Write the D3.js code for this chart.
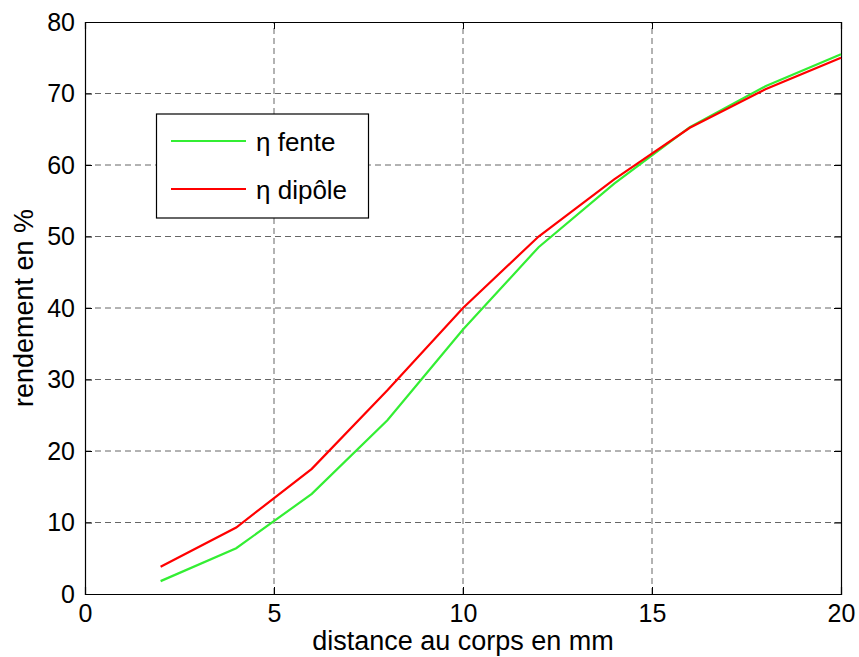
<!DOCTYPE html>
<html><head><meta charset="utf-8">
<script src="https://cdn.jsdelivr.net/npm/d3@7"></script>
<style>body{margin:0;background:#fff}svg{display:block}text{font-family:"Liberation Sans",Arial,sans-serif}</style>
</head><body>
<script>
const distances = [2, 4, 6, 8, 10, 12, 14, 16, 18, 20];
const fente = [1.8, 6.4, 14.0, 24.3, 37.0, 48.5, 57.4, 65.3, 71.0, 75.5];
const dipole = [3.8, 9.3, 17.5, 28.5, 40.0, 50.0, 58.0, 65.2, 70.6, 75.0];
const xTicks = [0, 5, 10, 15, 20];
const yTicks = [0, 10, 20, 30, 40, 50, 60, 70, 80];
const seriesNames = ["η fente", "η dipôle"];
const seriesColors = ["#33ee33", "#ff0000"];

const W = 859, H = 657;
const m = {left: 85, right: 18, top: 22, bottom: 63};
const svg = d3.select("body").append("svg").attr("width", W).attr("height", H);
const x = d3.scaleLinear().domain([0, 20]).range([m.left, W - m.right]);
const y = d3.scaleLinear().domain([0, 80]).range([H - m.bottom, m.top]);

// grid
const grid = svg.append("g").attr("stroke", "#666").attr("stroke-dasharray", "6,4").attr("stroke-width", 1);
xTicks.slice(1, -1).forEach(t => grid.append("line").attr("x1", x(t)).attr("x2", x(t)).attr("y1", y(0)).attr("y2", y(80)));
yTicks.slice(1, -1).forEach(t => grid.append("line").attr("x1", x(0)).attr("x2", x(20)).attr("y1", y(t)).attr("y2", y(t)));

// axes
const ax = d3.axisBottom(x).tickValues(xTicks).tickSize(-7).tickPadding(10).tickFormat(d3.format("d"));
const ay = d3.axisLeft(y).tickValues(yTicks).tickSize(-7).tickPadding(10).tickFormat(d3.format("d"));
const gx = svg.append("g").attr("transform", `translate(0,${y(0)})`).call(ax);
const gy = svg.append("g").attr("transform", `translate(${x(0)},0)`).call(ay);
svg.append("g").attr("transform", `translate(0,${y(80)})`).call(d3.axisTop(x).tickValues(xTicks).tickSize(-7).tickFormat(""));
svg.append("g").attr("transform", `translate(${x(20)},0)`).call(d3.axisRight(y).tickValues(yTicks).tickSize(-7).tickFormat(""));
svg.selectAll(".domain").attr("stroke", "#000").attr("stroke-width", 1.2);
svg.selectAll(".tick line").attr("stroke", "#000");
[gx, gy].forEach(g => g.selectAll("text").attr("font-size", 25).attr("fill", "#000").attr("font-family", "Liberation Sans, Arial, sans-serif"));
gx.selectAll("text").attr("dy", "0.71em");

// lines
const line = d3.line().x((d, i) => x(distances[i])).y(d => y(d));
[fente, dipole].forEach((s, i) => {
  svg.append("path").datum(s).attr("d", line).attr("fill", "none")
    .attr("stroke", seriesColors[i]).attr("stroke-width", 2.2);
});

// labels
svg.append("text").attr("x", x(10)).attr("y", 650).attr("text-anchor", "middle").attr("font-size", 27).text("distance au corps en mm");
svg.append("text").attr("transform", `translate(33,${(y(0) + y(80)) / 2}) rotate(-90)`).attr("text-anchor", "middle").attr("font-size", 27).text("rendement en %");

// legend
const lg = svg.append("g");
lg.append("rect").attr("x", 156.5).attr("y", 114).attr("width", 212).attr("height", 104).attr("fill", "#fff").attr("stroke", "#000").attr("stroke-width", 1.2);
seriesNames.forEach((n, i) => {
  const yy = 141 + i * 48;
  lg.append("line").attr("x1", 171).attr("x2", 246).attr("y1", yy).attr("y2", yy).attr("stroke", seriesColors[i]).attr("stroke-width", 2.2);
  lg.append("text").attr("x", 256).attr("y", yy + 10).attr("font-size", 26).text(n);
});
</script>
</body></html>
